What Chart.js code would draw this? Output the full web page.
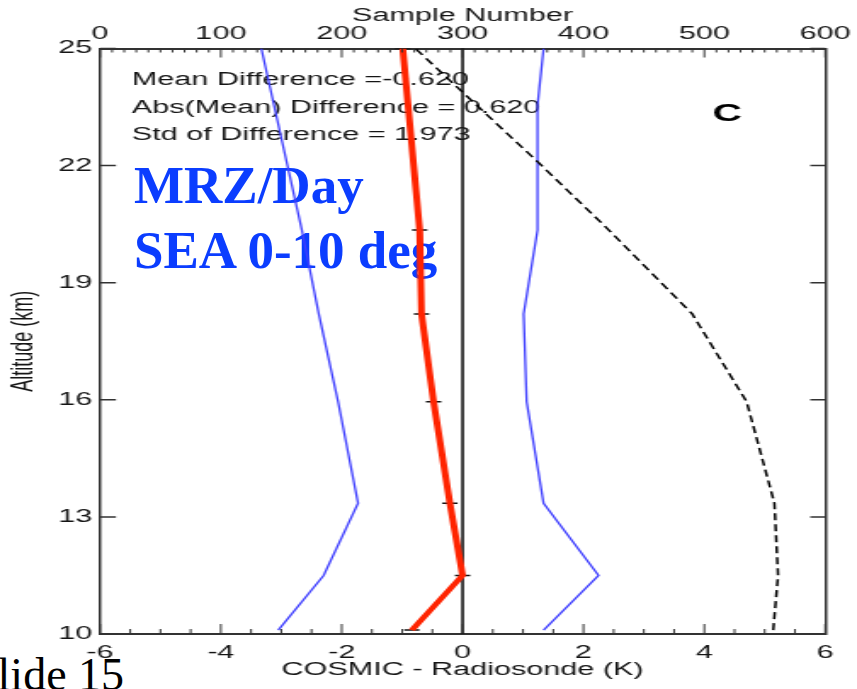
<!DOCTYPE html>
<html>
<head>
<meta charset="utf-8">
<title>COSMIC - Radiosonde, MRZ/Day SEA 0-10 deg</title>
<script src="https://cdn.jsdelivr.net/npm/chart.js"></script>
<style>
  html, body { margin: 0; padding: 0; background: #fff; }
  body { width: 857px; height: 689px; overflow: hidden; position: relative; }
  .slide-text { position: absolute; white-space: nowrap; z-index: 0; }
  .tag { left: 134px; font: bold 53px "Liberation Serif", "Times New Roman", serif; line-height: 53px; color: #0b3dff; }
  .slide-no { left: -28px; top: 652px; font: 46px "Liberation Serif", "Times New Roman", serif; line-height: 46px; color: #000; }
  /* the source figure is stretched sideways, so the chart is drawn narrow and scaled out */
  #wrap { position: absolute; left: 0; top: 0; width: 504px; height: 689px; transform: scaleX(1.7004); transform-origin: 0 0; z-index: 1; }
</style>
</head>
<body>
<div class="slide-text tag" style="top:159px">MRZ/Day</div>
<div class="slide-text tag" style="top:224px">SEA 0-10 deg</div>
<div class="slide-text slide-no">Slide 15</div>
<div id="wrap"><canvas id="chart" width="504" height="689" style="width:504px;height:689px"></canvas></div>
<script>
// Altitude levels (km) of the profile
const altitude = [10.1, 11.5, 13.35, 15.95, 18.2, 20.35, 25];
// mean COSMIC - radiosonde (K)
const meanDiff = [-0.84, 0.0, -0.21, -0.48, -0.68, -0.71, -0.99];
// mean - std (K)
const meanMinusStd = [-3.05, -2.30, -1.73, -2.06, -2.38, -2.66, -3.33];
// mean + std (K), one extra level near 23.5 km
const stdAltitude = [10.1, 11.5, 13.35, 15.95, 18.2, 20.35, 23.55, 25];
const meanPlusStd = [1.34, 2.25, 1.34, 1.06, 1.01, 1.24, 1.24, 1.34];
// sample number (top axis)
const sampleAltitude = [10.1, 11.5, 13.35, 15.95, 18.2, 20.35, 22.1, 25];
const sampleCount = [557, 561, 558, 535, 490, 421, 362, 261];

// tick labels
const tempTicks = [-6, -4, -2, 0, 2, 4, 6];
const sampleTicks = [0, 100, 200, 300, 400, 500, 600];
const altTicks = [10, 13, 16, 19, 22, 25];

const statLines = [
  'Mean Difference =-0.620',
  'Abs(Mean) Difference = 0.620',
  'Std of Difference = 1.973'
];
const panelLabel = 'C';

const pts = (xs, ys) => xs.map((v, i) => ({ x: v, y: ys[i] }));

Chart.defaults.font.family = '"Liberation Sans", Arial, Helvetica, sans-serif';
Chart.defaults.color = '#151515';

// ticks pointing into the plot, with minor ticks on the x axes
const inwardTicks = {
  id: 'inwardTicks',
  afterDraw(chart) {
    const { ctx, chartArea: a, scales } = chart;
    ctx.save();
    ctx.strokeStyle = '#333';
    ctx.lineWidth = 1;
    ctx.beginPath();
    for (let v = -6; v <= 6.001; v += 0.5) {
      const px = scales.x.getPixelForValue(v);
      const len = tempTicks.includes(v) ? 10 : 5;
      ctx.moveTo(px, a.bottom);
      ctx.lineTo(px, a.bottom - len);
    }
    for (let v = 0; v <= 600; v += 10) {
      const px = scales.x2.getPixelForValue(v);
      const len = sampleTicks.includes(v) ? 9 : 4;
      ctx.moveTo(px, a.top);
      ctx.lineTo(px, a.top + len);
    }
    ctx.stroke();
    ctx.lineWidth = 1.5;
    ctx.beginPath();
    altTicks.forEach(v => {
      const py = scales.y.getPixelForValue(v);
      ctx.moveTo(a.left, py);
      ctx.lineTo(a.left + 9.4, py);
      ctx.moveTo(a.right, py);
      ctx.lineTo(a.right - 8.8, py);
    });
    ctx.stroke();
    ctx.restore();
  }
};

// zero line and the statistics text
const annotations = {
  id: 'annotations',
  beforeDatasetsDraw(chart) {
    const { ctx, chartArea: a, scales } = chart;
    ctx.save();
    const x0 = scales.x.getPixelForValue(0);
    ctx.strokeStyle = '#000';
    ctx.lineWidth = 1.5;
    ctx.beginPath();
    ctx.moveTo(x0, a.top);
    ctx.lineTo(x0, a.bottom);
    ctx.stroke();

    ctx.fillStyle = '#151515';
    ctx.font = '18px "Liberation Sans", Arial, sans-serif';
    ctx.textAlign = 'left';
    ctx.textBaseline = 'middle';
    statLines.forEach((t, i) => ctx.fillText(t, a.left + 18.7, 80.5 + i * 27.3));

    ctx.fillStyle = '#000';
    ctx.font = 'bold 24px "Liberation Sans", Arial, sans-serif';
    ctx.textAlign = 'center';
    ctx.fillText(panelLabel, 427.6, 114);
    ctx.restore();
  }
};

const axisFont = { size: 18 };
const noGrid = { display: false, drawTicks: false };

new Chart(document.getElementById('chart'), {
  type: 'scatter',
  data: {
    datasets: [
      {
        label: 'Sample Number',
        data: pts(sampleCount, sampleAltitude),
        xAxisID: 'x2',
        showLine: true,
        borderColor: '#000',
        borderWidth: 1.5,
        borderDash: [7, 4],
        pointRadius: 0
      },
      {
        label: 'Mean - Std',
        data: pts(meanMinusStd, altitude),
        showLine: true,
        borderColor: '#3d3dff',
        borderWidth: 1.3,
        pointRadius: 0
      },
      {
        label: 'Mean + Std',
        data: pts(meanPlusStd, stdAltitude),
        showLine: true,
        borderColor: '#3d3dff',
        borderWidth: 1.3,
        pointRadius: 0
      },
      {
        label: 'Mean Difference',
        data: pts(meanDiff, altitude),
        showLine: true,
        borderColor: '#ff2400',
        borderWidth: 4,
        pointRadius: 0
      },
      {
        label: 'Error',
        data: pts(meanDiff, altitude),
        showLine: false,
        pointStyle: 'line',
        pointRadius: 4.5,
        borderColor: '#111',
        borderWidth: 1.5
      }
    ]
  },
  options: {
    responsive: false,
    animation: false,
    events: [],
    layout: { padding: 0 },
    plugins: {
      legend: { display: false },
      tooltip: { enabled: false }
    },
    scales: {
      x: {
        type: 'linear',
        position: 'bottom',
        min: -6,
        max: 6,
        afterBuildTicks: s => { s.ticks = tempTicks.map(v => ({ value: v })); },
        afterFit: s => { s.height = 55; },
        grid: noGrid,
        border: { display: true, color: '#333', width: 2 },
        ticks: { font: axisFont, padding: 8.5, maxRotation: 0, autoSkip: false },
        title: { display: true, text: 'COSMIC - Radiosonde (K)', font: axisFont, padding: { top: 0, bottom: 8 } }
      },
      x2: {
        type: 'linear',
        position: 'top',
        min: 0,
        max: 600,
        afterBuildTicks: s => { s.ticks = sampleTicks.map(v => ({ value: v })); },
        afterFit: s => { s.height = 48.5; },
        grid: noGrid,
        border: { display: true, color: '#333', width: 2 },
        ticks: { font: axisFont, padding: 3.7, maxRotation: 0, autoSkip: false },
        title: { display: true, text: 'Sample Number', font: axisFont, padding: { top: 5, bottom: 0 } }
      },
      y: {
        type: 'linear',
        position: 'left',
        min: 10,
        max: 25,
        afterBuildTicks: s => { s.ticks = altTicks.map(v => ({ value: v })); },
        afterFit: s => { s.width = 58.8; },
        grid: noGrid,
        border: { display: true, color: '#333', width: 1.5 },
        ticks: { font: axisFont, padding: 4.5 },
        title: { display: true, text: 'Altitude (km)', font: axisFont, padding: { top: 3.3, bottom: 0 } }
      },
      y2: {
        type: 'linear',
        position: 'right',
        min: 10,
        max: 25,
        afterFit: s => { s.width = 18.5; },
        grid: noGrid,
        border: { display: true, color: '#333', width: 1.5 },
        ticks: { display: false }
      }
    }
  },
  plugins: [annotations, inwardTicks]
});
</script>
</body>
</html>
